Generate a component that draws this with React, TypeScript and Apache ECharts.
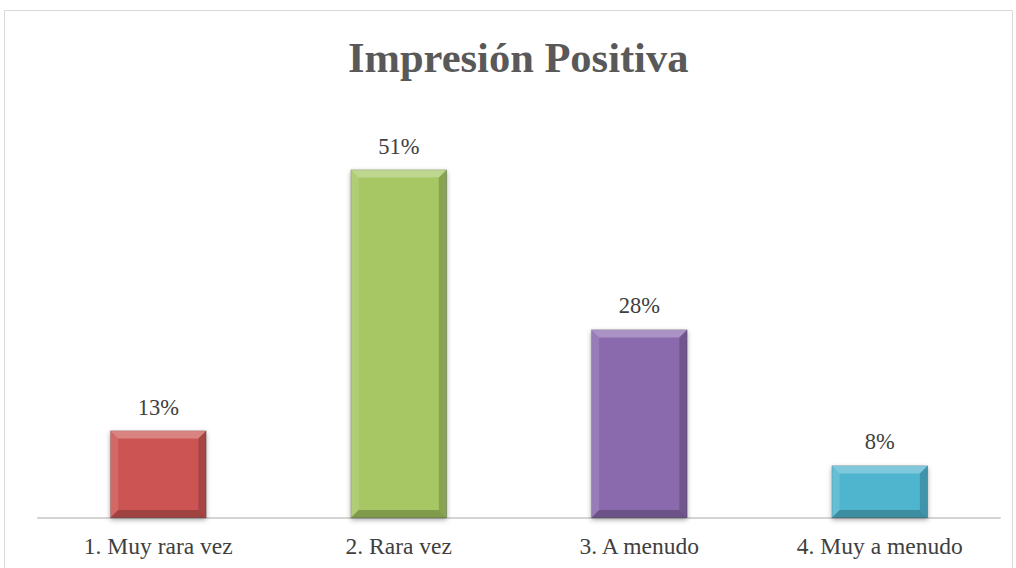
import React, { useEffect, useRef } from "react";
import * as echarts from "echarts";

const categories = ["1. Muy rara vez", "2. Rara vez", "3. A menudo", "4. Muy a menudo"];
const values = [12.8, 51.0, 27.6, 7.7];
const colors = ["#CC5552", "#A6C764", "#8A6BAD", "#4FB5CF"];
const titleText = "Impresión Positiva";

export default function App() {
  const ref = useRef<HTMLDivElement>(null);
  useEffect(() => {
    document.body.style.margin = "0";
    const chart = echarts.init(ref.current!, null, { renderer: "svg" });
    const serif = "'Liberation Serif', 'Times New Roman', serif";
    chart.setOption({
      animation: false,
      backgroundColor: "#ffffff",
      title: {
        text: titleText,
        left: 343,
        top: 31,
        textStyle: {
          fontFamily: serif,
          fontSize: 42.5,
          fontWeight: "bold",
          color: "#595959",
        },
      },
      graphic: [
        {
          type: "rect",
          shape: { x: 4.5, y: 10.5, width: 1008, height: 580 },
          style: { fill: "none", stroke: "#d9d9d9", lineWidth: 1 },
          silent: true,
        },
      ],
      grid: { left: 38, right: 16, top: 108, bottom: 50, containLabel: false },
      xAxis: {
        type: "category",
        data: categories,
        axisLine: { show: true, lineStyle: { color: "#d4d4d4", width: 2 } },
        axisTick: { show: false },
        axisLabel: {
          fontFamily: serif,
          fontSize: 23.5,
          color: "#404040",
          margin: 16,
        },
      },
      yAxis: {
        type: "value",
        min: 0,
        max: 60,
        show: false,
        splitLine: { show: false },
      },
      series: [
        {
          type: "bar",
          barWidth: "40%",
          z: 2,
          data: values.map((v, i) => ({
            value: v,
            itemStyle: {
              color: colors[i],
              borderColor: "rgba(0,0,0,0.35)",
              borderWidth: 0.5,
              shadowColor: "rgba(0,0,0,0.35)",
              shadowBlur: 5,
              shadowOffsetY: 2,
            },
          })),
          label: {
            show: true,
            position: "top",
            distance: 12,
            formatter: (p: any) => Math.round(p.value) + "%",
            fontFamily: serif,
            fontSize: 22.5,
            color: "#404040",
          },
        },
        {
          type: "custom",
          z: 3,
          silent: true,
          data: values.map((v, i) => [i, v]),
          renderItem: (params: any, api: any) => {
            const i = api.value(0);
            const v = api.value(1);
            const top = api.coord([i, v]);
            const base = api.coord([i, 0]);
            const band = api.size([1, 0])[0];
            const w = band * 0.4;
            const x0 = top[0] - w / 2;
            const x1 = top[0] + w / 2;
            const y0 = top[1];
            const y1 = base[1];
            const b = Math.min(8, (y1 - y0) / 3);
            return {
              type: "group",
              children: [
                {
                  type: "polygon",
                  shape: { points: [[x0, y0], [x1, y0], [x1 - b, y0 + b], [x0 + b, y0 + b]] },
                  style: { fill: "rgba(255,255,255,0.28)" },
                },
                {
                  type: "polygon",
                  shape: { points: [[x0, y0], [x0 + b, y0 + b], [x0 + b, y1 - b], [x0, y1]] },
                  style: { fill: "rgba(255,255,255,0.12)" },
                },
                {
                  type: "polygon",
                  shape: { points: [[x1, y0], [x1, y1], [x1 - b, y1 - b], [x1 - b, y0 + b]] },
                  style: { fill: "rgba(0,0,0,0.18)" },
                },
                {
                  type: "polygon",
                  shape: { points: [[x0, y1], [x0 + b, y1 - b], [x1 - b, y1 - b], [x1, y1]] },
                  style: { fill: "rgba(0,0,0,0.22)" },
                },
              ],
            };
          },
        },
      ],
    });
    return () => chart.dispose();
  }, []);
  return <div ref={ref} style={{ position: "fixed", left: 0, top: 0, width: 1016, height: 568 }} />;
}
